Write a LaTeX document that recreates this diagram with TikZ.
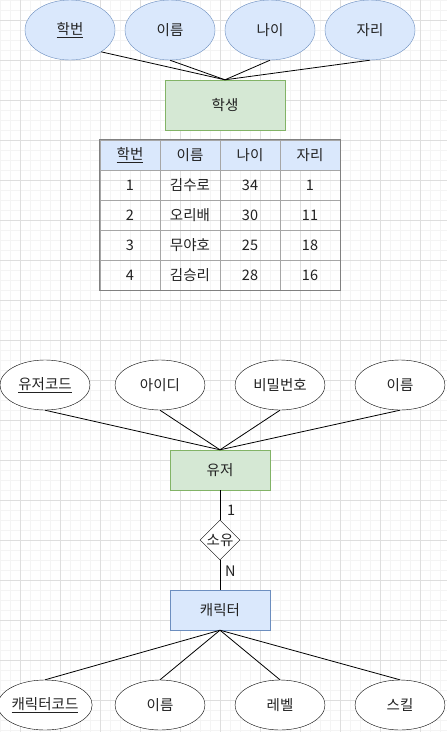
\documentclass[tikz,border=0pt]{standalone}
\usepackage{fontspec}
\setmainfont{Noto Sans CJK KR}
\usetikzlibrary{shapes.geometric}
\definecolor{bluefill}{HTML}{DAE8FC}
\definecolor{bluestroke}{HTML}{6C8EBF}
\definecolor{greenfill}{HTML}{D5E8D4}
\definecolor{greenstroke}{HTML}{82B366}
\definecolor{minorgrid}{HTML}{F4F4F4}
\definecolor{majorgrid}{HTML}{DEDEDE}
\definecolor{txt}{HTML}{222222}
\begin{document}
\begin{tikzpicture}[x=1pt,y=-1pt,
  every node/.style={font=\fontsize{14.5}{16}\selectfont, text=txt},
  battr/.style={ellipse, draw=bluestroke, fill=bluefill, minimum width=90pt, minimum height=60pt, inner sep=0pt},
  wattr/.style={ellipse, draw=black, fill=white, minimum width=90pt, minimum height=50pt, inner sep=0pt},
  gent/.style={rectangle, draw=greenstroke, fill=greenfill, minimum width=#1, inner sep=0pt},
  bent/.style={rectangle, draw=bluestroke, fill=bluefill, minimum width=100pt, minimum height=40pt, inner sep=0pt},
  rel/.style={diamond, draw=black, fill=white, minimum width=40pt, minimum height=40pt, inner sep=0pt},
  cellbox/.style={rectangle, draw=gray!70, minimum width=60pt, minimum height=30pt, inner sep=0pt},
  link/.style={draw=black, line width=0.8pt}
]
\useasboundingbox (0,0) rectangle (447,732);
\fill[white] (0,0) rectangle (447,732);
% grid
\foreach \x in {0,10,...,440} \draw[minorgrid, line width=0.6pt] (\x,0) -- (\x,732);
\foreach \y in {0,10,...,730} \draw[minorgrid, line width=0.6pt] (0,\y) -- (447,\y);
\foreach \x in {20,60,...,440} \draw[majorgrid, line width=0.7pt] (\x,0) -- (\x,732);
\foreach \y in {20,60,...,730} \draw[majorgrid, line width=0.7pt] (0,\y) -- (447,\y);

% ---- top section: 학생
\node[gent=120pt, minimum height=50pt] (st) at (225,105) {학생};
\node[battr] (a1) at (70,30) {\underline{학번}};
\node[battr] (a2) at (170,30) {이름};
\node[battr] (a3) at (270,30) {나이};
\node[battr] (a4) at (370,30) {자리};
\draw[link] (a1.-35) -- (st.north);
\draw[link] (a2.south) -- (st.north);
\draw[link] (a3.south) -- (st.north);
\draw[link] (a4.south) -- (st.north);

% ---- table
\foreach \t [count=\c] in {\underline{학번},이름,나이,자리}
  \node[cellbox, fill=bluefill] (h\c) at (70+60*\c,155) {\t};
\foreach \a/\b/\cc/\d [count=\r] in {1/김수로/34/1, 2/오리배/30/11, 3/무야호/25/18, 4/김승리/28/16}{
  \node[cellbox] (r\r c1) at (130,155+30*\r) {\a};
  \node[cellbox] (r\r c2) at (190,155+30*\r) {\b};
  \node[cellbox] (r\r c3) at (250,155+30*\r) {\cc};
  \node[cellbox] (r\r c4) at (310,155+30*\r) {\d};
}
\draw[gray, line width=0.8pt] (h1.north west) rectangle (r4c4.south east);

% ---- bottom section: 유저 / 캐릭터
\node[gent=100pt, minimum height=40pt] (us) at (220,470) {유저};
\node[wattr] (u1) at (45,385) {\underline{유저코드}};
\node[wattr] (u2) at (160,385) {아이디};
\node[wattr] (u3) at (280,385) {비밀번호};
\node[wattr] (u4) at (400,385) {이름};
\draw[link] (u1.south) -- (us.north);
\draw[link] (u2.south) -- (us.north);
\draw[link] (u3.south) -- (us.north);
\draw[link] (u4.south) -- (us.north);

\node[rel] (own) at (220,540) {소유};
\node[bent] (ch) at (220,610) {캐릭터};
\draw[link] (us.south) -- (own.north);
\draw[link] (own.south) -- (ch.north);
\node[anchor=west, inner sep=0pt] (one) at (227,510) {1};
\node[anchor=west, inner sep=0pt] (enn) at (225,571) {N};

\node[wattr] (c1) at (45,705) {\underline{캐릭터코드}};
\node[wattr] (c2) at (160,705) {이름};
\node[wattr] (c3) at (280,705) {레벨};
\node[wattr] (c4) at (400,705) {스킬};
\draw[link] (ch.south) -- (c1.north);
\draw[link] (ch.south) -- (c2.north);
\draw[link] (ch.south) -- (c3.north);
\draw[link] (ch.south) -- (c4.north);
\end{tikzpicture}
\end{document}
